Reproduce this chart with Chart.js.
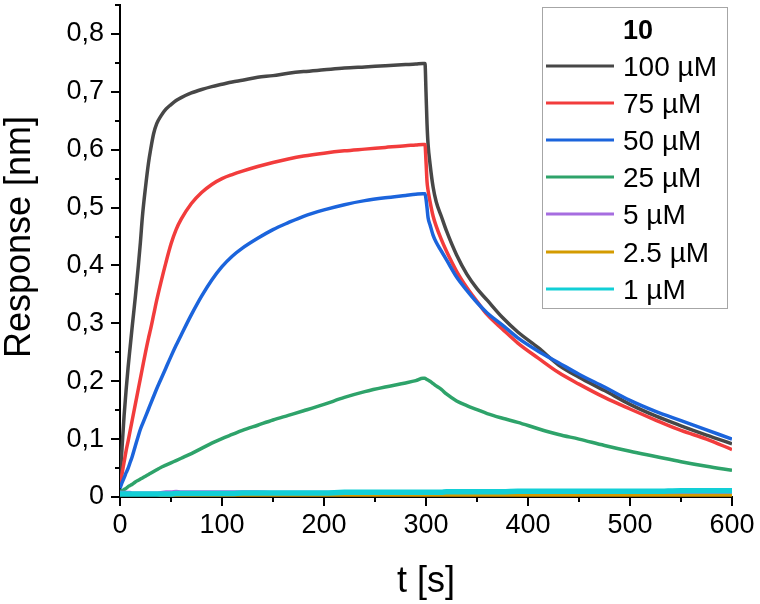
<!DOCTYPE html>
<html><head><meta charset="utf-8">
<script src="https://cdn.jsdelivr.net/npm/chart.js@4.4.0/dist/chart.umd.min.js"></script>
<style>html,body{margin:0;padding:0;background:#fff}canvas{display:block}</style>
</head><body>
<canvas id="c" width="760" height="604"></canvas>
<script>
// ---- data ----
const times = [
  0,2,4,6,8,10,12,15,18,20,
  22,25,28,30,33,36,40,45,50,55,
  60,70,80,90,100,110,120,135,150,165,
  180,200,220,240,260,280,290,297,299,300,
  301,302,304,307,310,315,320,330,340,350,
  360,375,390,410,430,450,475,500,525,550,
  575,600];

const resp100 = [
  0.03,0.085,0.14,0.185,0.225,0.26,0.295,0.345,0.40,0.44,
  0.485,0.535,0.578,0.60,0.628,0.645,0.658,0.670,0.678,0.685,
  0.69,0.698,0.704,0.709,0.713,0.717,0.72,0.725,0.728,0.732,
  0.735,0.738,0.741,0.743,0.745,0.747,0.748,0.749,0.749,0.70,
  0.645,0.61,0.575,0.535,0.51,0.485,0.46,0.418,0.385,0.36,
  0.34,0.31,0.285,0.258,0.228,0.207,0.184,0.16,0.14,0.123,
  0.107,0.092];

const resp75 = [
  0.02,0.04,0.06,0.08,0.097,0.115,0.133,0.16,0.187,0.205,
  0.223,0.25,0.275,0.29,0.315,0.34,0.37,0.405,0.437,0.462,
  0.48,0.507,0.526,0.54,0.55,0.557,0.563,0.571,0.578,0.584,
  0.589,0.594,0.598,0.601,0.604,0.607,0.608,0.609,0.609,0.58,
  0.545,0.53,0.51,0.485,0.468,0.445,0.425,0.39,0.362,0.338,
  0.315,0.29,0.266,0.24,0.215,0.195,0.172,0.152,0.133,0.115,
  0.1,0.082];

const resp50 = [
  0.015,0.025,0.033,0.042,0.05,0.06,0.07,0.088,0.106,0.117,
  0.126,0.139,0.152,0.161,0.174,0.187,0.203,0.223,0.243,0.262,
  0.28,0.315,0.347,0.375,0.398,0.416,0.43,0.447,0.462,0.474,
  0.485,0.496,0.505,0.512,0.517,0.521,0.523,0.524,0.524,0.515,
  0.50,0.483,0.47,0.452,0.44,0.425,0.41,0.38,0.357,0.336,
  0.318,0.297,0.275,0.252,0.232,0.212,0.19,0.167,0.148,0.132,
  0.116,0.1];

const resp25 = [
  0.01,0.011,0.013,0.015,0.018,0.02,0.022,0.026,0.029,0.031,
  0.033,0.036,0.039,0.041,0.044,0.047,0.051,0.055,0.059,0.063,
  0.067,0.075,0.084,0.093,0.101,0.108,0.115,0.124,0.133,0.141,
  0.149,0.16,0.172,0.182,0.19,0.197,0.201,0.205,0.205,0.204,
  0.203,0.202,0.2,0.196,0.192,0.186,0.178,0.166,0.158,0.151,
  0.144,0.136,0.129,0.118,0.108,0.1,0.089,0.079,0.07,0.061,
  0.053,0.046];

const resp5 = [
  0.008,0.008,0.008,0.008,0.008,0.008,0.007,0.007,0.007,0.007,
  0.007,0.007,0.007,0.007,0.007,0.007,0.008,0.009,0.009,0.010,
  0.009,0.009,0.009,0.009,0.009,0.009,0.009,0.009,0.008,0.008,
  0.008,0.008,0.008,0.008,0.008,0.008,0.008,0.008,0.008,0.008,
  0.008,0.008,0.008,0.008,0.008,0.008,0.008,0.008,0.008,0.008,
  0.008,0.008,0.008,0.008,0.008,0.008,0.007,0.007,0.007,0.007,
  0.006,0.006];

const resp2_5 = [
  0.004,0.004,0.004,0.004,0.004,0.004,0.004,0.004,0.004,0.004,
  0.004,0.004,0.004,0.004,0.004,0.004,0.003,0.003,0.003,0.003,
  0.003,0.003,0.003,0.003,0.003,0.003,0.003,0.003,0.003,0.003,
  0.003,0.003,0.003,0.003,0.003,0.003,0.003,0.003,0.003,0.003,
  0.003,0.003,0.003,0.003,0.003,0.003,0.003,0.003,0.003,0.003,
  0.003,0.003,0.003,0.003,0.003,0.003,0.003,0.003,0.003,0.003,
  0.003,0.003];

const resp1 = [
  0.005,0.005,0.005,0.005,0.005,0.005,0.005,0.005,0.005,0.005,
  0.005,0.005,0.005,0.005,0.005,0.005,0.005,0.005,0.005,0.006,
  0.006,0.006,0.006,0.006,0.006,0.006,0.007,0.007,0.007,0.007,
  0.007,0.007,0.008,0.008,0.008,0.008,0.008,0.008,0.008,0.008,
  0.008,0.008,0.008,0.008,0.008,0.008,0.009,0.009,0.009,0.009,
  0.009,0.009,0.01,0.01,0.01,0.01,0.01,0.01,0.01,0.011,
  0.011,0.011];

const seriesLabels = ['100 µM','75 µM','50 µM','25 µM','5 µM','2.5 µM','1 µM'];
const seriesValues = [resp100, resp75, resp50, resp25, resp5, resp2_5, resp1];
const seriesColors = ['#474747','#f23c3c','#1b64dc','#2ea36a','#a66de0','#d49b00','#12cfd6'];
const legendTitle = '10';
const xTickValues = [0,100,200,300,400,500,600];
const xMinorValues = [50,150,250,350,450,550];
const yTickValues = [0,0.1,0.2,0.3,0.4,0.5,0.6,0.7,0.8];
const yMinorValues = [0.05,0.15,0.25,0.35,0.45,0.55,0.65,0.75,0.85];
const xAxisTitle = 't [s]';
const yAxisTitle = 'Response [nm]';

// ---- chart ----
const FONT = '"Liberation Sans", Arial, Helvetica, sans-serif';
const lineWidths = [3.5, 3.5, 3.5, 3.5, 3, 3, 5.5];

const datasets = seriesValues.map((vals, i) => ({
  label: seriesLabels[i],
  data: vals.map((v, k) => ({x: times[k], y: v})),
  borderColor: seriesColors[i],
  backgroundColor: seriesColors[i],
  borderWidth: lineWidths[i],
  pointRadius: 0,
  cubicInterpolationMode: 'monotone',
  fill: false,
  order: seriesValues.length - i
}));

const decorPlugin = {
  id: 'decor',
  afterDraw(chart) {
    const ctx = chart.ctx;
    const xs = chart.scales.x, ys = chart.scales.y;
    const ca = chart.chartArea;
    ctx.save();
    ctx.strokeStyle = '#000';
    ctx.lineWidth = 2;
    const drawX = (v, len) => {
      const px = Math.round(xs.getPixelForValue(v));
      ctx.beginPath(); ctx.moveTo(px, ca.bottom); ctx.lineTo(px, ca.bottom + len); ctx.stroke();
    };
    const drawY = (v, len) => {
      const py = Math.round(ys.getPixelForValue(v));
      ctx.beginPath(); ctx.moveTo(ca.left, py); ctx.lineTo(ca.left - len, py); ctx.stroke();
    };
    xTickValues.forEach(v => drawX(v, 9));
    xMinorValues.forEach(v => drawX(v, 5));
    yTickValues.forEach(v => drawY(v, 9));
    yMinorValues.forEach(v => drawY(v, 5));

    ctx.fillStyle = '#000';
    ctx.font = '36px ' + FONT;
    ctx.textAlign = 'center';
    ctx.textBaseline = 'alphabetic';
    ctx.fillText(xAxisTitle, (ca.left + ca.right) / 2, 592);
    ctx.save();
    ctx.translate(30, 237);
    ctx.rotate(-Math.PI / 2);
    ctx.fillText(yAxisTitle, 0, 0);
    ctx.restore();

    ctx.fillStyle = '#fff';
    ctx.fillRect(543, 8, 184, 300);
    ctx.strokeStyle = '#a6a6a6';
    ctx.lineWidth = 1;
    ctx.strokeRect(542.5, 7.5, 185, 301);
    ctx.fillStyle = '#000';
    ctx.font = 'bold 27px ' + FONT;
    ctx.textAlign = 'center';
    ctx.fillText(legendTitle, 638, 39);
    ctx.font = '28px ' + FONT;
    ctx.textAlign = 'left';
    seriesLabels.forEach((lab, i) => {
      const y = 66 + i * 37.1;
      ctx.strokeStyle = seriesColors[i];
      ctx.lineWidth = 3;
      ctx.beginPath(); ctx.moveTo(546, Math.round(y)); ctx.lineTo(614, Math.round(y)); ctx.stroke();
      ctx.fillStyle = '#000';
      ctx.fillText(lab, 623, y + 10);
    });
    ctx.restore();
  }
};

new Chart(document.getElementById('c'), {
  type: 'line',
  data: { datasets },
  options: {
    responsive: false,
    animation: false,
    devicePixelRatio: 1,
    layout: { padding: { left: 0, top: 5, right: 28, bottom: 0 } },
    plugins: { legend: { display: false }, tooltip: { enabled: false } },
    scales: {
      x: {
        type: 'linear',
        min: 0, max: 600,
        afterBuildTicks: s => { s.ticks = xTickValues.map(v => ({value: v})); },
        afterFit: s => { s.height = 107; s.paddingLeft = 0; s.paddingRight = 0; },
        ticks: { color: '#000', font: { family: FONT, size: 27 }, padding: 12, maxRotation: 0,
                 callback: v => String(v) },
        grid: { display: true, drawOnChartArea: false, drawTicks: false },
        border: { display: true, color: '#000', width: 2 }
      },
      y: {
        type: 'linear',
        min: 0, max: 0.85,
        afterBuildTicks: s => { s.ticks = yTickValues.map(v => ({value: v})); },
        afterFit: s => { s.width = 120; s.paddingTop = 0; s.paddingBottom = 0; },
        ticks: { color: '#000', font: { family: FONT, size: 27 }, padding: 16,
                 callback: v => v === 0 ? '0' : Number(v).toFixed(1).replace('.', ',') },
        grid: { display: true, drawOnChartArea: false, drawTicks: false },
        border: { display: true, color: '#000', width: 2 }
      }
    }
  },
  plugins: [decorPlugin]
});
</script>
</body></html>
